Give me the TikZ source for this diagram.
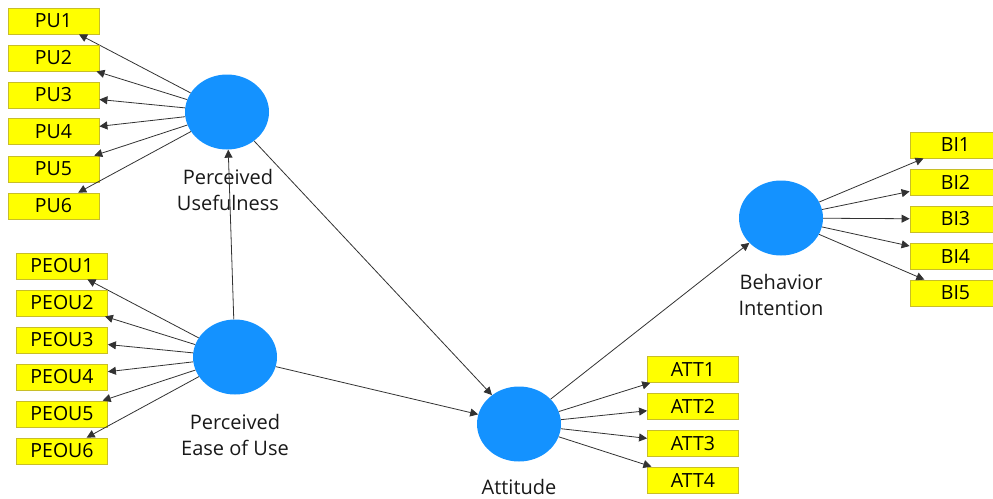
\documentclass[tikz,border=0pt]{standalone}
\usepackage{fontspec}
\setmainfont{Open Sans}
\usetikzlibrary{shapes.geometric,arrows.meta}
\definecolor{boxyellow}{RGB}{255,255,0}
\definecolor{boxedge}{RGB}{200,190,40}
\definecolor{latblue}{RGB}{20,146,255}
\definecolor{linegray}{RGB}{50,50,50}
\begin{document}
\begin{tikzpicture}[x=1pt,y=-1pt,
  ind/.style={draw=boxedge,fill=boxyellow,line width=0.8pt,minimum width=91pt,minimum height=26pt,inner sep=0pt,font=\fontsize{19.5}{20}\selectfont,text=black},
  lat/.style={ellipse,fill=latblue,minimum width=84pt,minimum height=75pt,inner sep=0pt},
  lab/.style={align=center,font=\fontsize{20}{26}\selectfont,text=black!90},
  arr/.style={draw=linegray,line width=0.8pt,-{Triangle[length=8pt,width=8pt]}}]
\useasboundingbox (0,0) rectangle (993,498);
% latent variables
\node[lat] (PU) at (227,112) {};
\node[lat] (PEOU) at (235,357) {};
\node[lat] (ATT) at (519,424) {};
\node[lat] (BI) at (781,218) {};
% labels
\node[lab] (PUl) at (228,190) {Perceived\\Usefulness};
\node[lab] (PEOUl) at (235,435) {Perceived\\Ease of Use};
\node[lab] (ATTl) at (519,487) {Attitude};
\node[lab] (BIl) at (781,295) {Behavior\\Intention};
% PU indicators
\foreach \i/\y in {1/21,2/58,3/95,4/131.5,5/169,6/206}{
  \node[ind] (PU\i) at (53.5,\y) {PU\i};
  \draw[arr] (PU) -- (PU\i);
}
\foreach \i/\y in {1/266,2/303,3/340,4/377,5/414,6/451}{
  \node[ind] (PEOU\i) at (62,\y) {PEOU\i};
  \draw[arr] (PEOU) -- (PEOU\i);
}
\foreach \i/\y in {1/369.5,2/406,3/443.5,4/480}{
  \node[ind] (ATT\i) at (693,\y) {ATT\i};
  \draw[arr] (ATT) -- (ATT\i);
}
\foreach \i/\y in {1/145,2/182,3/219,4/256,5/293}{
  \node[ind] (BI\i) at (955.5,\y) {BI\i};
  \draw[arr] (BI) -- (BI\i);
}
% structural paths
\draw[arr] (PEOU) -- (PU);
\draw[arr] (PU) -- (ATT);
\draw[arr] (PEOU) -- (ATT);
\draw[arr] (ATT) -- (BI);
\end{tikzpicture}
\end{document}
